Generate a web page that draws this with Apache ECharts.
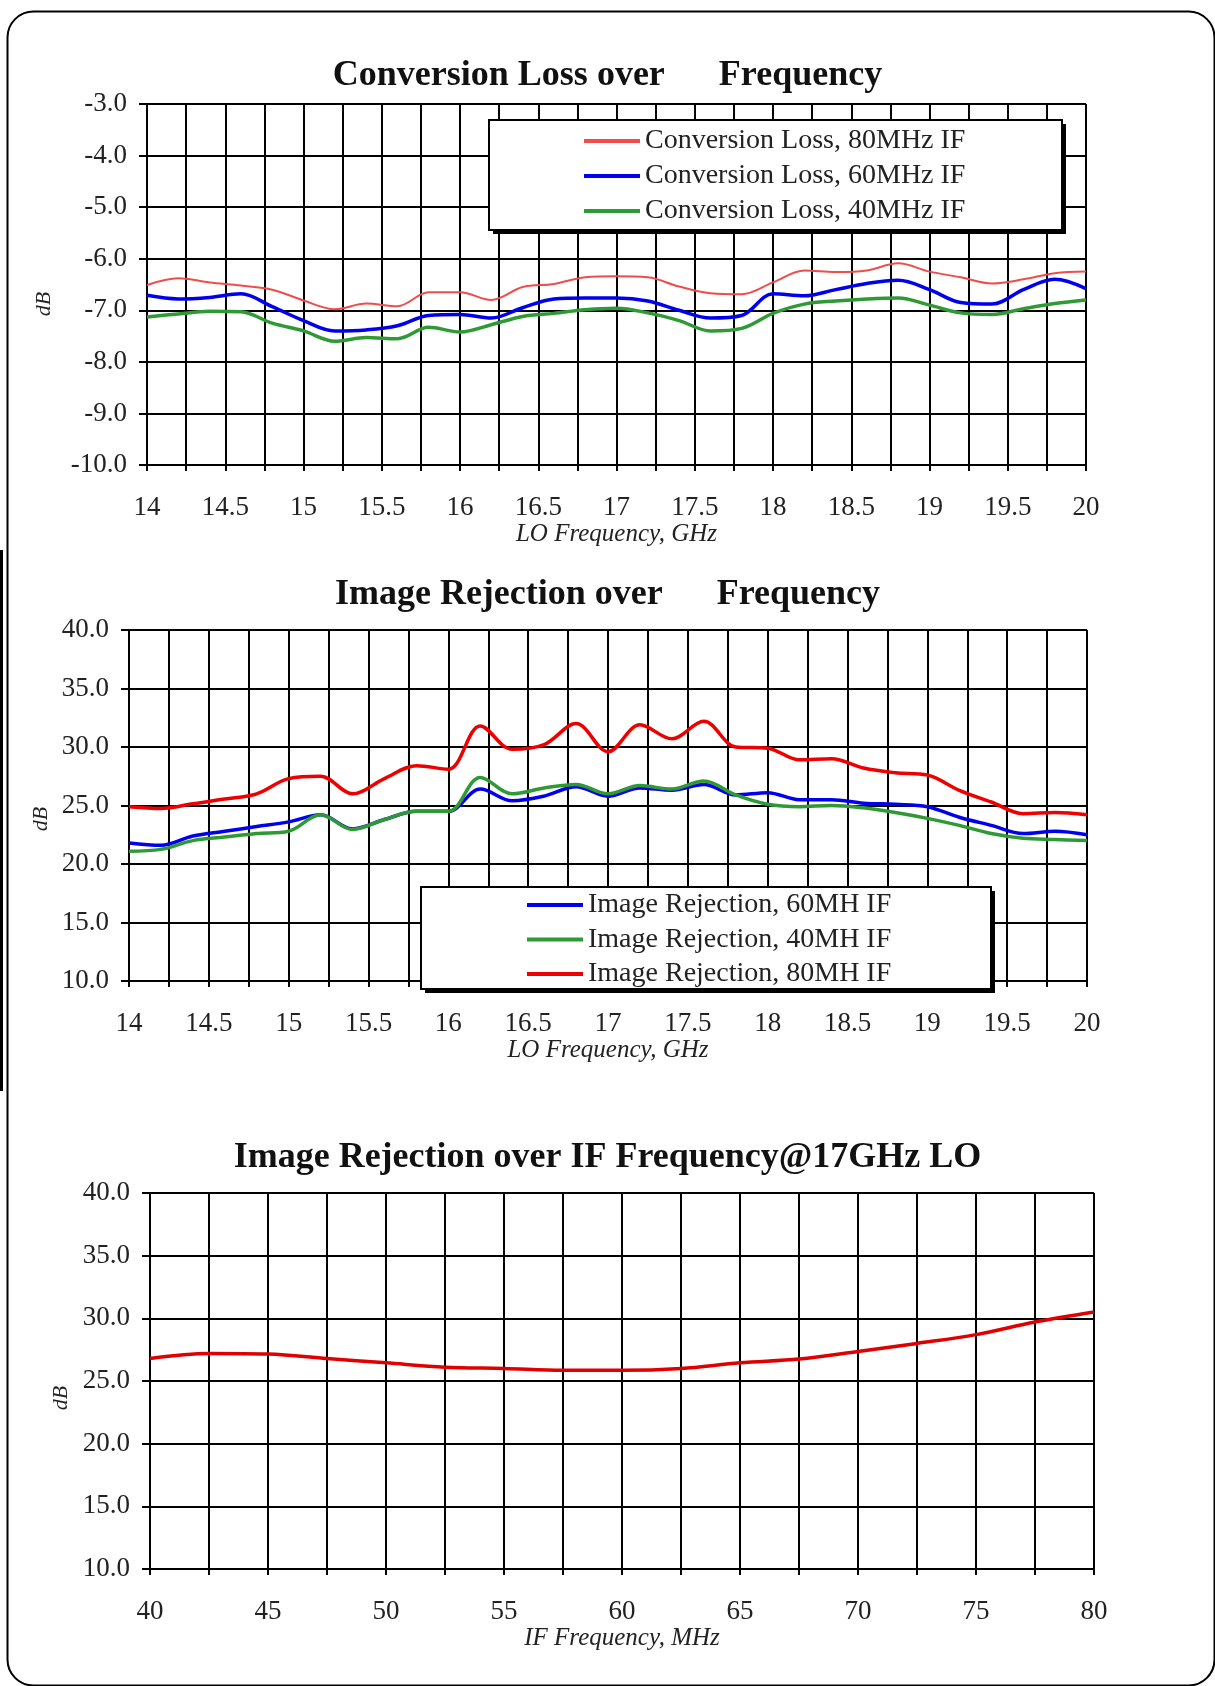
<!DOCTYPE html>
<html>
<head>
<meta charset="utf-8">
<script src="https://cdn.jsdelivr.net/npm/echarts@6/dist/echarts.min.js"></script>
<style>
html,body{margin:0;padding:0;background:#fff;}
#main{width:1215px;height:1686px;}
</style>
</head>
<body>
<div id="main"></div>
<script>
// ---- Chart 1: Conversion Loss over Frequency ----
const loFreq = [14.0,14.2,14.4,14.6,14.8,15.0,15.2,15.4,15.6,15.8,16.0,16.2,16.4,16.6,16.8,17.0,17.2,17.4,17.6,17.8,18.0,18.2,18.4,18.6,18.8,19.0,19.2,19.4,19.6,19.8,20.0];
const convLoss80 = [-6.51,-6.38,-6.46,-6.52,-6.60,-6.81,-6.98,-6.87,-6.92,-6.65,-6.65,-6.80,-6.55,-6.49,-6.36,-6.34,-6.36,-6.54,-6.67,-6.69,-6.46,-6.23,-6.26,-6.23,-6.09,-6.25,-6.36,-6.48,-6.40,-6.28,-6.25];
const convLoss60 = [-6.71,-6.78,-6.75,-6.68,-6.93,-7.20,-7.40,-7.38,-7.30,-7.10,-7.08,-7.15,-6.95,-6.78,-6.76,-6.76,-6.82,-7.00,-7.15,-7.10,-6.68,-6.72,-6.60,-6.48,-6.42,-6.60,-6.85,-6.88,-6.60,-6.40,-6.58];
const convLoss40 = [-7.13,-7.07,-7.02,-7.03,-7.25,-7.40,-7.60,-7.53,-7.55,-7.33,-7.42,-7.28,-7.12,-7.06,-6.99,-6.96,-7.05,-7.20,-7.40,-7.35,-7.06,-6.88,-6.82,-6.78,-6.76,-6.90,-7.05,-7.08,-6.97,-6.87,-6.80];

// ---- Chart 2: Image Rejection over Frequency ----
const imgRej60 = [21.8,21.6,22.4,22.8,23.2,23.6,24.2,23.0,23.8,24.5,24.5,26.4,25.4,25.8,26.6,25.8,26.5,26.3,26.8,25.9,26.1,25.5,25.5,25.2,25.1,24.9,24.0,23.3,22.6,22.8,22.5];
const imgRej40 = [21.1,21.25,22.0,22.3,22.6,22.8,24.2,22.95,23.8,24.5,24.5,27.4,26.0,26.5,26.8,26.0,26.7,26.4,27.1,25.9,25.1,24.9,25.0,24.8,24.4,23.9,23.3,22.6,22.2,22.1,22.0];
const imgRej80 = [24.9,24.75,25.15,25.55,26.0,27.3,27.5,26.0,27.3,28.4,28.1,31.8,29.8,30.2,32.0,29.6,31.9,30.7,32.2,30.0,29.9,28.9,29.0,28.2,27.8,27.6,26.3,25.3,24.3,24.4,24.2];

// ---- Chart 3: Image Rejection over IF Frequency @17GHz LO ----
const ifFreq = [40,42.5,45,47.5,50,52.5,55,57.5,60,62.5,65,67.5,70,72.5,75,77.5,80];
const imgRejIF = [26.8,27.2,27.15,26.8,26.45,26.1,26.0,25.85,25.85,26.0,26.45,26.75,27.35,28.0,28.7,29.7,30.5];

// ---- Text ----
const titles = ['Conversion Loss over      Frequency','Image Rejection over      Frequency','Image Rejection over IF Frequency@17GHz LO'];
const xNames = ['LO Frequency, GHz','LO Frequency, GHz','IF Frequency, MHz'];
const yName = 'dB';
const names1 = ['Conversion Loss, 80MHz IF','Conversion Loss, 60MHz IF','Conversion Loss, 40MHz IF'];
const names2 = ['Image Rejection, 60MH IF','Image Rejection, 40MH IF','Image Rejection, 80MH IF'];
const names3 = ['Image Rejection, IF'];

const FONT = '"Liberation Serif", "Times New Roman", serif';
const zip = (xs, ys) => xs.map((x, i) => [x, ys[i]]);

const grids = [
  {left:147, top:104, width:939, height:361},
  {left:129, top:630, width:958, height:351},
  {left:150, top:1193, width:944, height:376}
];

function xAxisCfg(idx, min, max, interval, labelStep) {
  return {
    type:'value', gridIndex:idx, min:min, max:max, interval:interval,
    name: xNames[idx], nameLocation:'middle', nameGap:57,
    nameTextStyle:{fontFamily:FONT, fontStyle:'italic', fontSize:25, color:'#222'},
    axisLine:{show:true, lineStyle:{color:'#000', width:2}},
    axisTick:{show:true, length:6, lineStyle:{color:'#000', width:2}},
    splitLine:{show:true, lineStyle:{color:'#000', width:2}},
    axisLabel:{
      margin:29, fontFamily:FONT, fontSize:27, color:'#222',
      formatter:function(v){
        const r = Math.round(v/labelStep);
        return Math.abs(r*labelStep - v) < 1e-6 ? String(+v.toFixed(2)) : '';
      }
    }
  };
}
function yAxisCfg(idx, min, max, interval) {
  return {
    type:'value', gridIndex:idx, min:min, max:max, interval:interval,
    axisLine:{show:true, lineStyle:{color:'#000', width:2}},
    axisTick:{show:true, length:8, lineStyle:{color:'#000', width:2}},
    splitLine:{show:true, lineStyle:{color:'#000', width:2}},
    axisLabel:{margin:20, fontFamily:FONT, fontSize:27, color:'#222',
      formatter:function(v){return v.toFixed(1);}}
  };
}
function lineSeries(name, idx, xs, ys, color, width) {
  return {
    type:'line', name:name, xAxisIndex:idx, yAxisIndex:idx,
    data: zip(xs, ys), smooth:0.35, symbol:'none', showSymbol:false,
    lineStyle:{color:color, width:width}, itemStyle:{color:color},
    emphasis:{disabled:true}, animation:false, z:2
  };
}
const legendBase = {
  orient:'vertical', itemWidth:56, itemHeight:4, icon:'rect', padding:0,
  textStyle:{fontFamily:FONT, fontSize:28, color:'#222', lineHeight:30},
  selectedMode:false, z:6
};
function legendBox(x, y, w, h) {
  return [
    {type:'rect', shape:{x:x+4, y:y+4, width:w, height:h}, style:{fill:'#000'}, silent:true, z:4},
    {type:'rect', shape:{x:x, y:y, width:w, height:h}, style:{fill:'#fff', stroke:'#000', lineWidth:2}, silent:true, z:5}
  ];
}

const chart = echarts.init(document.getElementById('main'), null, {renderer:'canvas'});
chart.setOption({
  backgroundColor:'#fff',
  animation:false,
  title: [
    {text:titles[0], left:'center', top:58, padding:0},
    {text:titles[1], left:'center', top:577, padding:0},
    {text:titles[2], left:'center', top:1140, padding:0}
  ].map(t => Object.assign(t, {textStyle:{fontFamily:FONT, fontSize:36, fontWeight:'bold', color:'#111'}})),
  grid: grids,
  xAxis: [
    xAxisCfg(0, 14, 20, 0.25, 0.5),
    xAxisCfg(1, 14, 20, 0.25, 0.5),
    xAxisCfg(2, 40, 80, 2.5, 5)
  ],
  yAxis: [
    yAxisCfg(0, -10, -3, 1),
    yAxisCfg(1, 10, 40, 5),
    yAxisCfg(2, 10, 40, 5)
  ],
  legend: [
    Object.assign({}, legendBase, {left:584, top:126, itemGap:5, data:names1}),
    Object.assign({}, legendBase, {left:527, top:890, itemGap:4.5, data:names2})
  ],
  series: [
    lineSeries(names1[0], 0, loFreq, convLoss80, '#ef4c4c', 2),
    lineSeries(names1[1], 0, loFreq, convLoss60, '#0000ee', 3.5),
    lineSeries(names1[2], 0, loFreq, convLoss40, '#2f9a35', 3.5),
    lineSeries(names2[0], 1, loFreq, imgRej60, '#0000ee', 3.5),
    lineSeries(names2[1], 1, loFreq, imgRej40, '#2f9a35', 3.5),
    lineSeries(names2[2], 1, loFreq, imgRej80, '#ee0000', 3.5),
    lineSeries(names3[0], 2, ifFreq, imgRejIF, '#e00000', 3.5)
  ],
  graphic: [
    {type:'rect', left:5, top:9, shape:{x:0, y:0, width:1207, height:1674, r:26},
      style:{fill:'none', stroke:'#000', lineWidth:2}, silent:true, z:-10},
    {type:'rect', shape:{x:0, y:550, width:3, height:541}, style:{fill:'#000'}, silent:true},
    ...legendBox(489, 120, 573, 110),
    ...legendBox(421, 887, 570, 102),
    {type:'text', x:44, y:304, rotation:Math.PI/2, style:{text:yName, font:'italic 22px ' + FONT, fill:'#222', align:'center', verticalAlign:'middle'}},
    {type:'text', x:41, y:819, rotation:Math.PI/2, style:{text:yName, font:'italic 22px ' + FONT, fill:'#222', align:'center', verticalAlign:'middle'}},
    {type:'text', x:61, y:1398, rotation:Math.PI/2, style:{text:yName, font:'italic 22px ' + FONT, fill:'#222', align:'center', verticalAlign:'middle'}}
  ]
});
</script>
</body>
</html>
